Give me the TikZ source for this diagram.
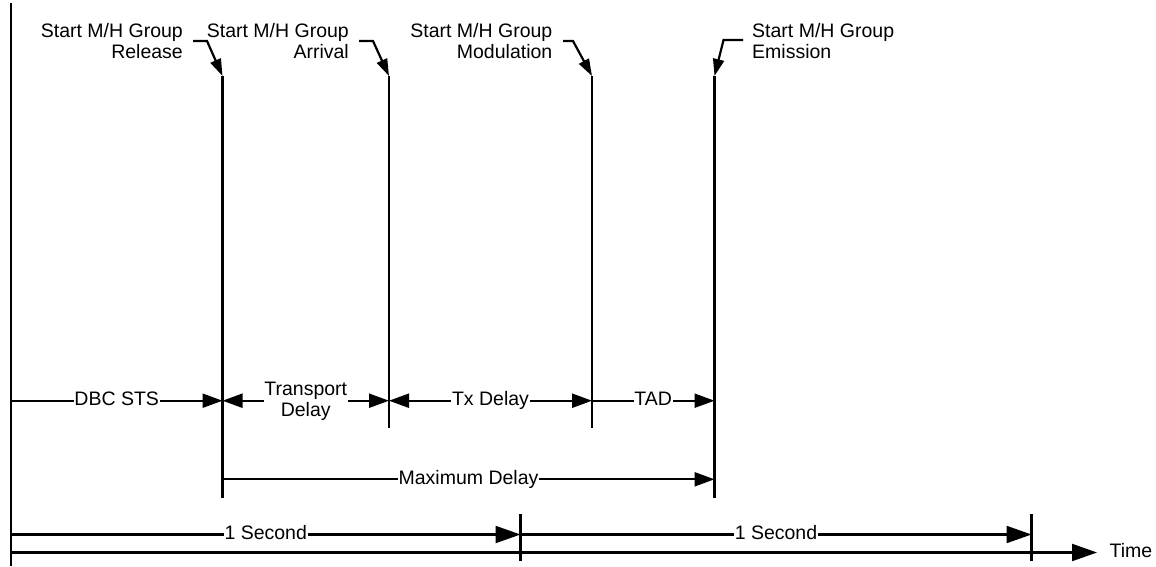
\documentclass[tikz,border=0pt]{standalone}
\usepackage{fontspec}
\setmainfont{Liberation Sans}
\usetikzlibrary{arrows.meta}
\begin{document}
\begin{tikzpicture}[x=1pt,y=-1pt,
  every node/.style={font=\fontsize{19.5}{21.3}\selectfont, inner sep=0pt},
  vline/.style={line width=2.4pt},
  dimline/.style={line width=2.2pt},
  tipA/.style={-{Triangle[length=20pt,width=14pt]}},
  tipAA/.style={{Triangle[length=20pt,width=14pt]}-{Triangle[length=20pt,width=14pt]}},
  tipB/.style={-{Triangle[length=25pt,width=17pt]}},
  leader/.style={line width=2.2pt, -{Triangle[length=17pt,width=11pt]}},
  lab/.style={fill=white, inner xsep=0.6pt, text height=14pt, text depth=4pt},
  lab2/.style={fill=white, inner xsep=0.6pt, align=center, anchor=north},
  toplab/.style={align=right, anchor=north east},
]
\useasboundingbox (0,0) rectangle (1156,566);

% coordinates of vertical lines
\coordinate (axTop) at (11,3);
\coordinate (axBot) at (11,566);
\coordinate (relTop) at (222.5,76);
\coordinate (relBot) at (222.5,498);
\coordinate (arrTop) at (389,76);
\coordinate (arrBot) at (389,428);
\coordinate (modTop) at (592,76);
\coordinate (modBot) at (592,428);
\coordinate (emiTop) at (714.5,76);
\coordinate (emiBot) at (714.5,498);
\coordinate (t1Top) at (520.5,514);
\coordinate (t1Bot) at (520.5,560.5);
\coordinate (t2Top) at (1031.5,514);
\coordinate (t2Bot) at (1031.5,560.5);

\draw[vline] (axTop) -- (axBot);
\draw[vline] (relTop) -- (relBot);
\draw[vline] (arrTop) -- (arrBot);
\draw[vline] (modTop) -- (modBot);
\draw[vline] (emiTop) -- (emiBot);
\draw[vline] (t1Top) -- (t1Bot);
\draw[vline] (t2Top) -- (t2Bot);

% top labels
\node[toplab] (relLab) at (183,23.3) {Start M/H Group\\Release};
\node[toplab] (arrLab) at (349,23.3) {Start M/H Group\\Arrival};
\node[toplab] (modLab) at (552.5,23.3) {Start M/H Group\\Modulation};
\node[align=left, anchor=north west] (emiLab) at (752,23.3) {Start M/H Group\\Emission};

% leaders
\coordinate (relL1) at (193,41);
\coordinate (relL2) at (207,41);
\coordinate (arrL1) at (359,41);
\coordinate (arrL2) at (373,41);
\coordinate (modL1) at (563,41);
\coordinate (modL2) at (573,41);
\coordinate (emiL1) at (743,40);
\coordinate (emiL2) at (723.5,40);
\draw[leader] (relL1) -- (relL2) -- (relTop);
\draw[leader] (arrL1) -- (arrL2) -- (arrTop);
\draw[leader] (modL1) -- (modL2) -- (modTop);
\draw[leader] (emiL1) -- (emiL2) -- (emiTop);

% dimension row
\coordinate (dA) at (11,400.7);
\coordinate (dB) at (222.5,400.7);
\coordinate (dC) at (389,400.7);
\coordinate (dD) at (592,400.7);
\coordinate (dE) at (714.5,400.7);
\draw[dimline, tipA] (dA) -- (dB) node[midway, lab] (dbc) {DBC STS};
\draw[dimline, tipAA] (dB) -- (dC) node[midway, lab2, yshift=20pt] (trans) {Transport\\Delay};
\draw[dimline, tipAA] (dC) -- (dD) node[midway, lab] (tx) {Tx Delay};
\draw[dimline, tipA] (dD) -- (dE) node[midway, lab] (tad) {TAD};

% maximum delay
\coordinate (mA) at (222.5,479.3);
\coordinate (mB) at (714.5,479.3);
\draw[dimline, tipA] (mA) -- (mB) node[midway, lab] (maxd) {Maximum Delay};

% one second
\coordinate (sA) at (11,534.5);
\coordinate (sB) at (520.5,534.5);
\coordinate (sC) at (1031.5,534.5);
\draw[dimline, tipB] (sA) -- (sB) node[midway, lab] (sec1) {1 Second};
\draw[dimline, tipB] (sB) -- (sC) node[midway, lab] (sec2) {1 Second};

% time axis
\coordinate (tA) at (11,552.5);
\coordinate (tB) at (1097,552.5);
\draw[dimline, tipB] (tA) -- (tB);
\node[anchor=west, text height=14pt, text depth=4pt] (time) at (1109.5,552.3) {Time};
\end{tikzpicture}
\end{document}
